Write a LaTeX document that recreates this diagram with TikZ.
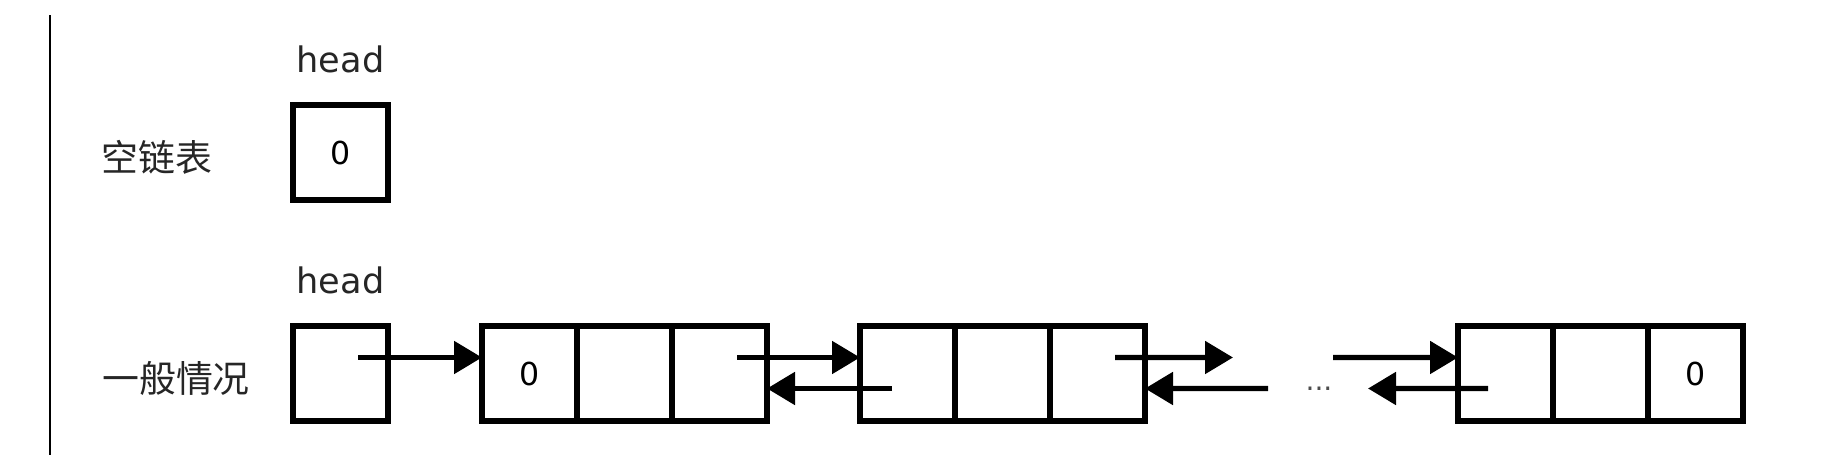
\documentclass[tikz,border=0pt]{standalone}
\usepackage{fontspec}
\setmainfont{DejaVu Sans}
\newfontfamily\cjk{Noto Sans CJK SC}
\usetikzlibrary{arrows.meta, positioning}

\begin{document}
\begin{tikzpicture}[
        cell/.style={draw, line width=1.8pt, minimum width=0.95cm, minimum height=0.95cm,
            inner sep=0pt, outer sep=0pt, font=\fontsize{9}{10}\selectfont},
        tag/.style={font=\fontsize{10}{12}\selectfont, text=black!85},
        cn/.style={font=\cjk\fontsize{10.5}{12}\selectfont, text=black!85},
        ptr/.style={-{Triangle[length=2.8mm, width=3.2mm]}, line width=1.5pt}
    ]

    \useasboundingbox (0,0) rectangle (18.28,4.71);
    \draw[line width=0.7pt] (0.50,0.16) -- (0.50,4.56);

    % empty list
    \node[cell] (e0) at (3.405,3.185) {0};
    \node[tag, above=0.2cm of e0] (ehead) {head};
    \node[cn] (etext) at (1.57,3.14) {空链表};

    % general case
    \node[cell] (h) at (3.405,0.975) {};
    \node[tag, above=0.2cm of h] (hhead) {head};
    \node[cn] (gtext) at (1.76,0.93) {一般情况};

    % first node
    \node[cell, right=0.94cm of h] (a1) {0};
    \node[cell, right=0pt of a1] (a2) {};
    \node[cell, right=0pt of a2] (a3) {};

    % second node
    \node[cell, right=0.93cm of a3] (b1) {};
    \node[cell, right=0pt of b1] (b2) {};
    \node[cell, right=0pt of b2] (b3) {};

    % last node
    \node[cell, right=3.13cm of b3] (c1) {};
    \node[cell, right=0pt of c1] (c2) {};
    \node[cell, right=0pt of c2] (c3) {0};

    % free ends round the gap
    \coordinate (fwdend) at (12.33,1.135);
    \coordinate (backstart) at (12.68,0.825);
    \coordinate (fwdstart) at (13.33,1.135);
    \coordinate (backend) at (13.68,0.825);
    \node[anchor=base, font=\fontsize{8}{9}\selectfont, text=black!70] (dots) at (13.19,0.80) {...};

    % links
    \draw[ptr] ([shift={(0.175,0.16)}]h.center) -- ([yshift=0.16cm]a1.west);
    \draw[ptr] ([shift={(0.175,0.16)}]a3.center) -- ([yshift=0.16cm]b1.west);
    \draw[ptr] ([shift={(-0.155,-0.15)}]b1.center) -- ([yshift=-0.15cm]a3.east);
    \draw[ptr] ([shift={(0.175,0.16)}]b3.center) -- (fwdend);
    \draw[ptr] (backstart) -- ([yshift=-0.15cm]b3.east);
    \draw[ptr] (fwdstart) -- ([yshift=0.16cm]c1.west);
    \draw[ptr] ([shift={(-0.175,-0.15)}]c1.center) -- (backend);

\end{tikzpicture}
\end{document}
